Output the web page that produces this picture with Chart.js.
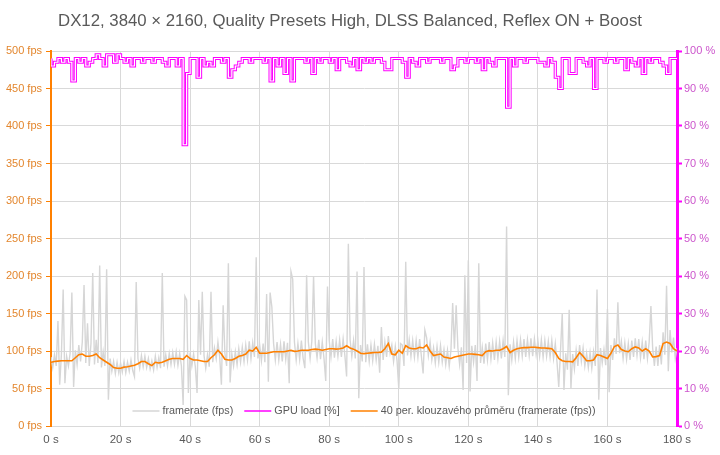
<!DOCTYPE html>
<html>
<head>
<meta charset="utf-8">
<script src="https://cdn.jsdelivr.net/npm/chart.js@4.4.1/dist/chart.umd.min.js"></script>
<style>
html,body{margin:0;padding:0;background:#ffffff;}
#wrap{width:720px;height:455px;position:relative;}
</style>
</head>
<body>
<div id="wrap"><canvas id="c" width="720" height="455"></canvas></div>
<script>
// ---- data ----
const chartTitle = "DX12, 3840 × 2160, Quality Presets High, DLSS Balanced, Reflex ON + Boost";
const seriesNames = ["framerate (fps)", "GPU load [%]", "40 per. klouzavého průměru (framerate (fps))"];

// framerate samples every 0.5 s (0 .. 180 s)
const framerateStep = 0.5;
const framerate = [
 92,78,95,80,140,55,96,182,57,93,
 80,97,178,52,101,82,108,86,112,188,
 84,137,80,110,204,82,115,84,214,78,
 99,80,209,35,90,73,86,70,85,71,
 84,72,86,71,85,73,88,74,66,192,
 90,77,94,79,93,78,90,76,87,75,
 93,78,91,77,204,79,95,80,97,82,
 98,82,99,81,97,80,28,173,168,44,
 98,80,96,79,44,168,95,179,94,77,
 95,79,179,85,104,90,112,92,55,161,
 97,80,217,58,96,80,99,82,103,85,
 105,86,108,88,113,90,111,92,225,90,
 108,87,110,85,176,59,178,159,110,88,
 112,88,109,86,113,89,111,57,206,196,
 112,88,110,89,114,90,77,201,112,90,
 113,200,110,91,115,89,112,90,60,186,
 114,92,116,91,113,93,115,92,116,94,
 66,243,115,93,114,90,206,37,108,86,
 212,85,109,86,108,87,109,88,107,71,
 132,88,112,92,120,97,108,86,106,87,
 50,110,108,80,219,94,115,93,114,92,
 114,92,116,93,70,128,118,94,112,88,
 104,84,106,85,107,85,102,82,101,80,
 101,164,103,161,104,82,105,48,201,84,
 221,46,107,85,108,60,217,84,105,83,
 110,88,112,89,111,88,112,90,113,90,
 114,92,266,41,109,88,112,90,114,92,
 115,93,116,92,115,94,117,93,116,95,
 114,93,115,92,114,93,113,92,114,90,
 110,85,52,100,150,48,97,75,155,50,
 96,76,101,80,108,86,104,80,97,78,
 98,77,99,80,182,35,104,84,102,81,
 156,45,108,88,117,96,165,97,113,90,
 111,89,110,88,114,92,117,94,116,91,
 112,89,114,90,112,160,104,80,106,80,
 108,82,125,95,187,73,128,98,118,90,104
];

// GPU load samples every 1 s (0 .. 180 s), percent
const gpuStep = 1;
const gpuLoad = [
 98,96,97,98,97,98,97,92,98,97,
 98,96,97,98,99,98,96,99,99,97,
 99,98,97,98,96,98,98,97,98,98,
 97,98,98,97,96,98,98,96,98,75,
 94,98,98,93,98,96,97,96,98,98,
 97,98,93,95,96,97,98,98,97,98,
 98,98,97,98,92,98,96,98,94,98,
 92,98,98,98,97,98,94,98,97,98,
 98,97,98,95,98,98,97,96,98,95,
 98,97,98,97,98,98,97,95,95,98,
 98,98,97,93,98,97,96,98,98,97,
 98,98,98,97,98,98,95,96,98,98,
 97,98,98,97,98,95,98,97,96,98,
 98,98,85,98,96,98,98,97,98,98,
 98,97,97,96,98,97,93,90,98,98,
 94,94,98,98,97,96,98,90,98,98,
 97,98,98,97,98,98,95,98,97,96,
 98,94,98,97,98,98,97,96,94,98,98
];

// 40-period moving average of framerate, every 1 s (0 .. 180 s)
const avgStep = 1;
const movingAvg = [
 85,86,86.5,87,87,87,87,91,95,96,
 93,93,94,96,91,88,85,82,78,77,
 77,78.5,79,80,81,83,86,86,83,80.5,
 85,84,85,87,89,90,90,90,89,94,
 90,88,88,87,86,86,91,95,101,96,
 89,88,88,90,93,94,96,101,100,105,
 97,97,97,98,99,99,99,99,100,101,
 99.5,100,101,101,101,102,102.5,102,101,102,
 103,103,102.5,103,104,107,104,102.5,100,97,
 96.5,97,97.5,98,98,98.5,103,110,96,95,
 101,97,107,104,103,103,105,104,108,100,
 94,95,96,92,91,90,92,93,94,95,
 96,96,95.5,95,94,99,100.5,100,101,101,
 103,106,98,101,103,104,104.5,104.5,105,105,
 104.5,104,104,103.5,103,98,90,87,86,86,
 85.5,91,98,93,87,87,88,95,94,92,
 90,97,106,108,102,100,99,103,105.5,104,
 100,103,100,92,92.5,94,110,112,110,103,100
];

// axis ticks
const xTicks = {min: 0, max: 180, step: 20, unit: " s"};
const fpsTicks = {min: 0, max: 500, step: 50, unit: " fps"};
const pctTicks = {min: 0, max: 100, step: 10, unit: " %"};

// ---- build chart ----
const toXY = (arr, step) => arr.map((v, i) => ({x: i * step, y: v}));
const FONT = "'Liberation Sans', Arial, sans-serif";
const GRID = '#D9D9D9';
const TEXT = '#595959';

const titlePlugin = {
  id: 'customTitle',
  afterDraw(chart) {
    const ctx = chart.ctx;
    ctx.save();
    ctx.font = "16.8px " + FONT;
    ctx.fillStyle = TEXT;
    ctx.textAlign = 'center';
    ctx.textBaseline = 'middle';
    ctx.fillText(chartTitle, 350, 21);
    ctx.restore();
  }
};

const legendPlugin = {
  id: 'customLegend',
  afterDraw(chart) {
    const ctx = chart.ctx;
    const items = chart.data.datasets.filter(d => d.legendIndex !== undefined)
      .sort((a, b) => a.legendIndex - b.legendIndex)
      .map(d => ({label: d.label, color: d.borderColor}));
    ctx.save();
    ctx.font = "10.8px " + FONT;
    const lineLen = 27, gap = 3, spacing = 11;
    let total = 0;
    items.forEach((it, i) => {
      it.w = ctx.measureText(it.label).width;
      total += lineLen + gap + it.w + (i ? spacing : 0);
    });
    const ca = chart.chartArea;
    let x = (ca.left + ca.right) / 2 - total / 2;
    const y = 411;
    items.forEach(it => {
      ctx.strokeStyle = it.color;
      ctx.lineWidth = 1.5;
      ctx.beginPath();
      ctx.moveTo(x, y);
      ctx.lineTo(x + lineLen, y);
      ctx.stroke();
      x += lineLen + gap;
      ctx.fillStyle = TEXT;
      ctx.textAlign = 'left';
      ctx.textBaseline = 'middle';
      ctx.fillText(it.label, x, y);
      x += it.w + spacing;
    });
    ctx.restore();
  }
};

new Chart(document.getElementById('c'), {
  type: 'line',
  data: {
    datasets: [
      {
        label: seriesNames[2],
        legendIndex: 2,
        data: toXY(movingAvg, avgStep),
        borderColor: '#FF8000',
        borderWidth: 1.6,
        pointRadius: 0,
        yAxisID: 'y',
        order: 0
      },
      {
        label: seriesNames[0],
        legendIndex: 0,
        data: toXY(framerate, framerateStep),
        borderColor: '#D6D6D6',
        borderWidth: 1.4,
        pointRadius: 0,
        yAxisID: 'y',
        order: 3
      },
      {
        label: seriesNames[1],
        legendIndex: 1,
        data: toXY(gpuLoad, gpuStep),
        borderColor: '#FF00FF',
        borderWidth: 3.2,
        pointRadius: 0,
        stepped: 'after',
        yAxisID: 'y1',
        order: 2
      },
      {
        label: seriesNames[1],
        data: toXY(gpuLoad, gpuStep),
        borderColor: '#FFFFFF',
        borderWidth: 1.2,
        pointRadius: 0,
        stepped: 'after',
        yAxisID: 'y1',
        order: 1
      }
    ]
  },
  options: {
    responsive: false,
    animation: false,
    devicePixelRatio: 1,
    layout: {padding: {top: 51, left: 0, right: 0, bottom: 0}},
    plugins: {legend: {display: false}, title: {display: false}, tooltip: {enabled: false}},
    scales: {
      x: {
        type: 'linear', min: xTicks.min, max: xTicks.max,
        ticks: {stepSize: xTicks.step, callback: v => v + xTicks.unit, color: TEXT,
                font: {family: FONT, size: 11.5}, padding: 7, maxRotation: 0, autoSkip: false},
        grid: {color: GRID, drawTicks: false},
        border: {color: GRID, width: 1},
        afterFit: s => { s.height = 29; }
      },
      y: {
        position: 'left', min: fpsTicks.min, max: fpsTicks.max,
        ticks: {stepSize: fpsTicks.step, callback: v => v + fpsTicks.unit, color: '#E3862D',
                font: {family: FONT, size: 11}, padding: 4},
        grid: {color: GRID, tickColor: '#FF8000', tickLength: 5},
        border: {color: '#FF8000', width: 2},
        afterFit: s => { s.width = 51; }
      },
      y1: {
        position: 'right', min: pctTicks.min, max: pctTicks.max,
        ticks: {stepSize: pctTicks.step, callback: v => v + pctTicks.unit, color: '#CC55CC',
                font: {family: FONT, size: 11}, padding: 2},
        grid: {drawOnChartArea: false, tickColor: '#FF00FF', tickLength: 5, tickWidth: 2},
        border: {color: '#FF00FF', width: 3},
        afterFit: s => { s.width = 43; }
      }
    }
  },
  plugins: [titlePlugin, legendPlugin]
});
</script>
</body>
</html>
